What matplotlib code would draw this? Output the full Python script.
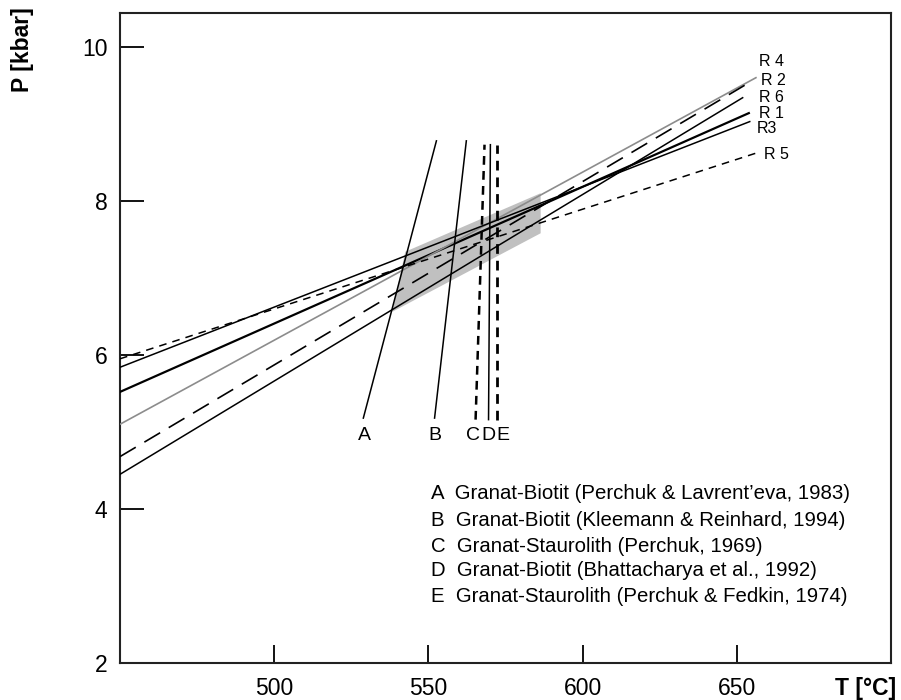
import matplotlib
matplotlib.use("Agg")
import matplotlib.pyplot as plt

plt.rcParams['font.family'] = ['Liberation Sans', 'DejaVu Sans']

# R reactions: start/end (T in °C, P in kbar)
r_names = ['R 1', 'R 2', 'R 3', 'R 4', 'R 5', 'R 6']
r_T0 = [450, 450, 450, 450, 450, 450]
r_P0 = [5.52, 5.10, 5.84, 4.68, 5.95, 4.45]
r_T1 = [653.9, 656.2, 654.2, 655.0, 656.2, 651.9]
r_P1 = [9.14, 9.60, 9.03, 9.56, 8.62, 9.34]

# Thermometers A-E (T bottom, T top)
th_names = ['A', 'B', 'C', 'D', 'E']
th_Tbot = [528.9, 552.0, 565.3, 569.5, 572.4]
th_Ttop = [552.6, 562.3, 568.2, 570.1, 572.4]
th_Pbot = [5.18, 5.18, 5.16, 5.16, 5.16]
th_Ptop = [8.78, 8.78, 8.73, 8.73, 8.73]

# shaded PT field
band_T = [542.5, 586.4, 586.4, 538.3]
band_P = [7.34, 8.10, 7.58, 6.56]

legend_texts = [
    'A  Granat-Biotit (Perchuk & Lavrent\u2019eva, 1983)',
    'B  Granat-Biotit (Kleemann & Reinhard, 1994)',
    'C  Granat-Staurolith (Perchuk, 1969)',
    'D  Granat-Biotit (Bhattacharya et al., 1992)',
    'E  Granat-Staurolith (Perchuk & Fedkin, 1974)',
]

xticks = [500, 550, 600, 650]
yticks = [2, 4, 6, 8, 10]

fig = plt.figure(figsize=(9.01, 7.0), dpi=100)
ax = fig.add_axes([120/901, 1-663/700, (891-120)/901, (663-13)/700])
ax.set_xlim(450, 700)
ax.set_ylim(2, 10.44)

ax.fill(band_T, band_P, color='#c0c0c0', lw=0, zorder=1)

r_styles = {
    'R 1': dict(color='black', lw=1.6, ls='-'),
    'R 2': dict(color='#8c8c8c', lw=1.2, ls='-'),
    'R 3': dict(color='black', lw=1.1, ls='-'),
    'R 4': dict(color='black', lw=1.2, ls=(0, (11, 6))),
    'R 5': dict(color='black', lw=1.1, ls=(0, (5, 4))),
    'R 6': dict(color='black', lw=1.1, ls='-'),
}
for n, t0, p0, t1, p1 in zip(r_names, r_T0, r_P0, r_T1, r_P1):
    ax.plot([t0, t1], [p0, p1], zorder=3, **r_styles[n])

r_label_pos = {'R 4': (657.1, 9.81), 'R 2': (657.8, 9.57), 'R 6': (657.1, 9.34),
               'R 1': (657.1, 9.13), 'R 3': (656.5, 8.94), 'R 5': (658.8, 8.60)}
for n in r_names:
    x, y = r_label_pos[n]
    ax.text(x, y, n.replace('R 3', 'R3'), fontsize=11.5, ha='left', va='center')

th_styles = {
    'A': dict(color='black', lw=1.1, ls='-'),
    'B': dict(color='black', lw=1.1, ls='-'),
    'C': dict(color='black', lw=1.8, ls=(0, (3.5, 2.5))),
    'D': dict(color='black', lw=1.1, ls='-'),
    'E': dict(color='black', lw=2.0, ls=(0, (3.5, 2.5))),
}
for n, tb, tt, pb, pt in zip(th_names, th_Tbot, th_Ttop, th_Pbot, th_Ptop):
    ax.plot([tb, tt], [pb, pt], zorder=4, **th_styles[n])

lab_T = [529.3, 552.0, 564.4, 569.6, 574.0]
for n, t in zip(th_names, lab_T):
    ax.text(t, 4.95, n, fontsize=14, ha='center', va='center')

leg_P = [4.195, 3.844, 3.519, 3.195, 2.857]
for txt, p in zip(legend_texts, leg_P):
    ax.text(551.0, p, txt, fontsize=14.7, ha='left', va='center')

ax.set_xticks(xticks)
ax.set_yticks(yticks)
ax.set_xticklabels([str(v) for v in xticks])
ax.set_yticklabels([str(v) for v in yticks])
ax.tick_params(axis='x', direction='in', length=13, width=1.3, labelsize=16.5, pad=10)
ax.tick_params(axis='y', direction='in', length=17, width=1.3, labelsize=16.5, pad=9)
for s in ax.spines.values():
    s.set_linewidth(1.5)
    s.set_color('#222222')

fig.text(22/901, 1-50/700, 'P [kbar]', rotation=90, fontsize=16.5, fontweight='bold',
         ha='center', va='center')
fig.text(866/901, 1-688/700, 'T [°C]', fontsize=16.5, fontweight='bold',
         ha='center', va='center')

fig.savefig('out.png', dpi=100)
